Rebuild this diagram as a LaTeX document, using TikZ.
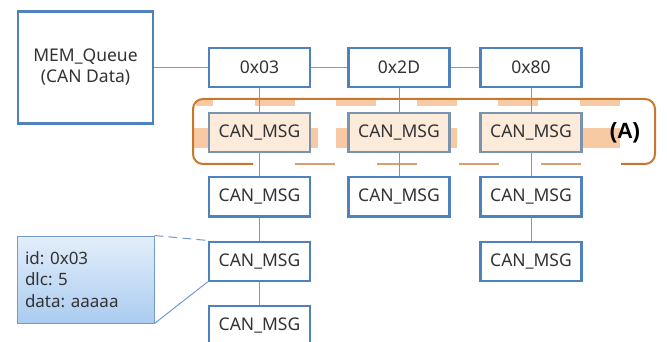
\documentclass[tikz,border=0pt]{standalone}
\usepackage{fontspec}
\setmainfont{Noto Sans}
\newfontfamily\labelfont{Liberation Sans}
\usetikzlibrary{positioning}
\frenchspacing
\definecolor{boxblue}{HTML}{4F81BD}
\definecolor{lineblue}{HTML}{6E9BD0}
\definecolor{txtgray}{HTML}{333333}
\definecolor{frameorange}{HTML}{C8782E}
\definecolor{patchorange}{HTML}{F4A766}
\definecolor{peach}{HTML}{FCEADB}
\definecolor{msggray}{HTML}{7A93AE}
\definecolor{detailtop}{HTML}{E3EEFA}
\definecolor{detailbot}{HTML}{AACCF0}
\tikzset{>=latex,
  qbox/.style={draw=boxblue, line width=2.2pt, fill=white, minimum width=101pt, minimum height=39pt, inner sep=0pt, text=txtgray, font=\fontsize{17.5}{21}\selectfont},
  hlbox/.style={qbox, draw=msggray, fill=peach},
  link/.style={draw=lineblue, line width=1pt},
  patch/.style={fill=patchorange, opacity=0.6},
  frame/.style={draw=frameorange, line width=2pt, rounded corners=10pt}
}

\begin{document}
\begin{tikzpicture}[x=1pt, y=-1pt, node distance=23pt]
      \useasboundingbox (0,0) rectangle (667,342);
      \foreach \x in {255,336,417,498,580} \fill[patch] (\x,100) rectangle ++(40,6);
      \fill[patch] (196,100) rectangle (213,106);
      \foreach \a/\b in {193/208,311/318,336/348,450/457,582/620} \fill[patch] (\a,128) rectangle (\b,148);
      \draw[frame] (253,164) -- (193,164) -- (193,99) -- (655,99) -- (655,164) -- (621,164);
      \draw[frame, draw=frameorange!70, line width=1.6pt, rounded corners=0pt, dash pattern=on 40pt off 42pt] (295,164) -- (581,164);
      \node[qbox, minimum width=135pt, minimum height=112pt, align=center] (mem) at (85.5,67.5) {MEM\_Queue\\(CAN Data)};
      \node[qbox] (q03) at (259.5,67.5) {0x03};
      \node[qbox] (q2D) at (399,67.5) {0x2D};
      \node[qbox] (q80) at (531,67.5) {0x80};
      \node[hlbox, below=24pt of q03] (msg1a) {CAN\_MSG};
      \node[hlbox, below=24pt of q2D] (msg1b) {CAN\_MSG};
      \node[hlbox, below=24pt of q80] (msg1c) {CAN\_MSG};
      \node[qbox, below=of msg1a] (msg2a) {CAN\_MSG};
      \node[qbox, below=of msg2a] (msg3a) {CAN\_MSG};
      \node[qbox, below=of msg3a] (msg4a) {CAN\_MSG};
      \node[qbox, below=of msg1b] (msg2b) {CAN\_MSG};
      \node[qbox, below=of msg1c] (msg2c) {CAN\_MSG};
      \node[qbox, below=of msg2c] (msg3c) {CAN\_MSG};
      \node[font=\labelfont\fontsize{22}{24}\bfseries\selectfont] (lblA) at (625,133) {(A)};
      \node[draw=boxblue!80, line width=1pt, top color=detailtop, bottom color=detailbot, minimum width=137pt, minimum height=87pt, text width=121pt, inner sep=8pt, align=left, text=txtgray, font=\fontsize{17}{21.5}\selectfont] (detail) at (85.5,279.5) {id: 0x03\\dlc: 5\\data: aaaaa};
      \draw[link] (mem) -- (q03) -- (q2D) -- (q80);
      \draw[link] (q03) -- (msg1a) -- (msg2a) -- (msg3a) -- (msg4a);
      \draw[link] (q2D) -- (msg1b) -- (msg2b);
      \draw[link] (q80) -- (msg1c) -- (msg2c) -- (msg3c);
      \draw[link, dash pattern=on 9pt off 5pt] (detail.north east) -- (msg3a.north west);
      \draw[link] (detail.south east) -- (msg3a.south west);
\end{tikzpicture}
\end{document}
